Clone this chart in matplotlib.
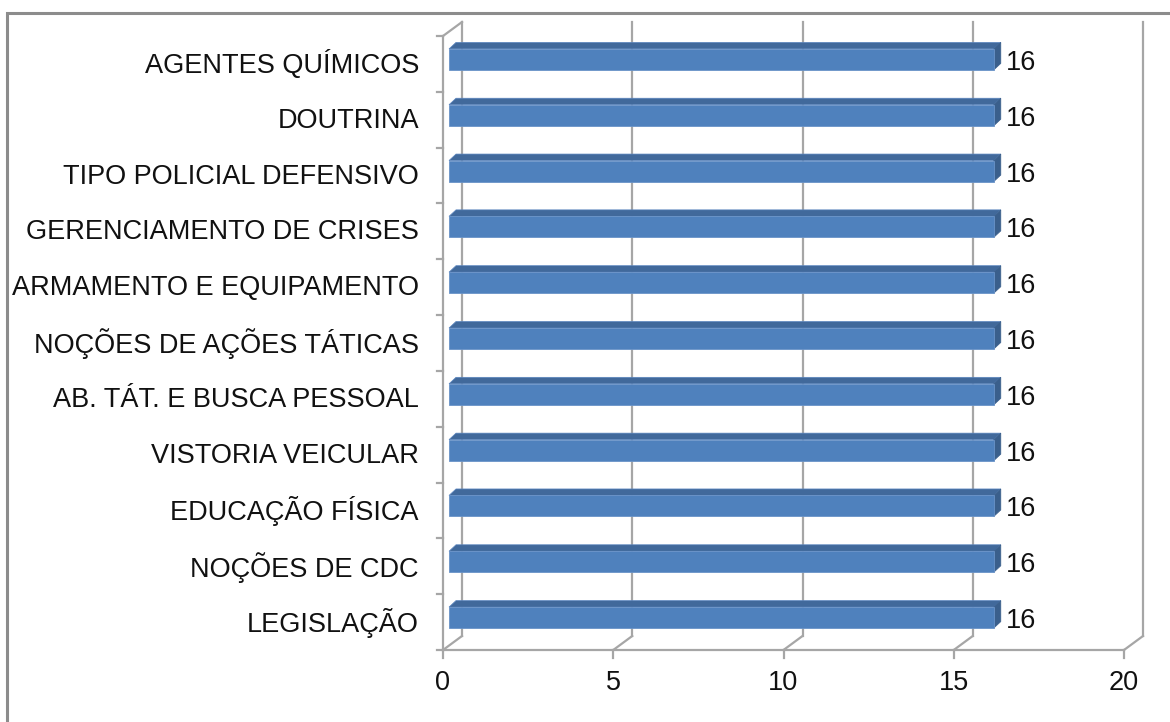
import numpy as np
import matplotlib.pyplot as plt
from matplotlib.patches import Polygon, Rectangle

plt.rcParams['font.family'] = ['Liberation Sans', 'DejaVu Sans']

categories = ['AGENTES QUÍMICOS', 'DOUTRINA', 'TIPO POLICIAL DEFENSIVO',
              'GERENCIAMENTO DE CRISES', 'ARMAMENTO E EQUIPAMENTO',
              'NOÇÕES DE AÇÕES TÁTICAS', 'AB. TÁT. E BUSCA PESSOAL',
              'VISTORIA VEICULAR', 'EDUCAÇÃO FÍSICA', 'NOÇÕES DE CDC',
              'LEGISLAÇÃO']
values = [16, 16, 16, 16, 16, 16, 16, 16, 16, 16, 16]
xticks = [0, 5, 10, 15, 20]

W, H = 1170, 722
fs = 19.5
fig = plt.figure(figsize=(W / 100, H / 100), dpi=100)
ax = fig.add_axes([443 / W, 72 / H, 681 / W, 614 / H])
n = len(categories)
ax.set_xlim(0, 20)
ax.set_ylim(-0.5, n - 0.5)
ax.axis('off')

# pixel -> data unit scale
sx = 681 / 20.0
sy = 614 / n


def d(px, py):
    return px / sx, py / sy


grid_c = '#a6a6a6'
lw = 1.6
wall_dx, wall_dy = d(19, 14)

# back wall verticals + floor diagonals
for t in xticks:
    ax.plot([t + wall_dx, t + wall_dx], [-0.5 + wall_dy, n - 0.5 + wall_dy],
            color=grid_c, lw=lw, clip_on=False, zorder=1)
    ax.plot([t, t + wall_dx], [-0.5, -0.5 + wall_dy],
            color=grid_c, lw=lw, clip_on=False, zorder=1)
    ax.plot([t, t], [-0.5, -0.5 - 8 / sy], color=grid_c, lw=lw,
            clip_on=False, zorder=1)
    ax.text(t, -0.5 - 33 / sy, str(t), ha='center', va='center',
            fontsize=fs, color='#111111')

# front floor line, left wall front edge and top edge
ax.plot([0, 20], [-0.5, -0.5], color=grid_c, lw=lw, clip_on=False, zorder=1)
ax.plot([0, 0], [-0.5, n - 0.5], color=grid_c, lw=lw, clip_on=False, zorder=1)
ax.plot([0, wall_dx], [n - 0.5, n - 0.5 + wall_dy], color=grid_c, lw=lw,
        clip_on=False, zorder=1)
for k in range(n + 1):
    yb = k - 0.5
    ax.plot([0, -6 / sx], [yb, yb], color=grid_c, lw=lw, clip_on=False,
            zorder=1)

# bars (3d look)
gx, gy = d(6, 4.5)
bx, by = d(7, 6.5)
h = 21 / sy
ypos = np.arange(n)[::-1]
for yc, v, name in zip(ypos, values, categories):
    bot = yc - h / 2 + gy
    top = yc + h / 2 + gy
    ax.add_patch(Polygon([(gx, top), (v + gx, top), (v + gx + bx, top + by),
                          (gx + bx, top + by)], closed=True,
                         facecolor='#41699b', edgecolor='#5b86c0', lw=0.5,
                         zorder=3))
    ax.add_patch(Polygon([(v + gx, bot), (v + gx + bx, bot + by),
                          (v + gx + bx, top + by), (v + gx, top)], closed=True,
                         facecolor='#3a5f8c', edgecolor='#3a5f8c', lw=0.5,
                         zorder=3))
    ax.add_patch(Rectangle((gx, bot), v, h, facecolor='#4f81bd',
                           edgecolor='#6a93c8', lw=0.6, zorder=4))
    ax.text(v + gx + bx + 5 / sx, yc + 1 / sy, str(v), ha='left',
            va='center', fontsize=fs, color='#111111')
    ax.text(-24 / sx, yc - 1 / sy, name, ha='right', va='center',
            fontsize=fs, color='#111111')

# outer chart border
fig.patches.append(Rectangle((7 / W, -0.05), 1.2, (H - 13) / H + 0.05,
                             transform=fig.transFigure, fill=False,
                             edgecolor='#8c8c8c', lw=2.2))

fig.savefig('out.png', dpi=100)
